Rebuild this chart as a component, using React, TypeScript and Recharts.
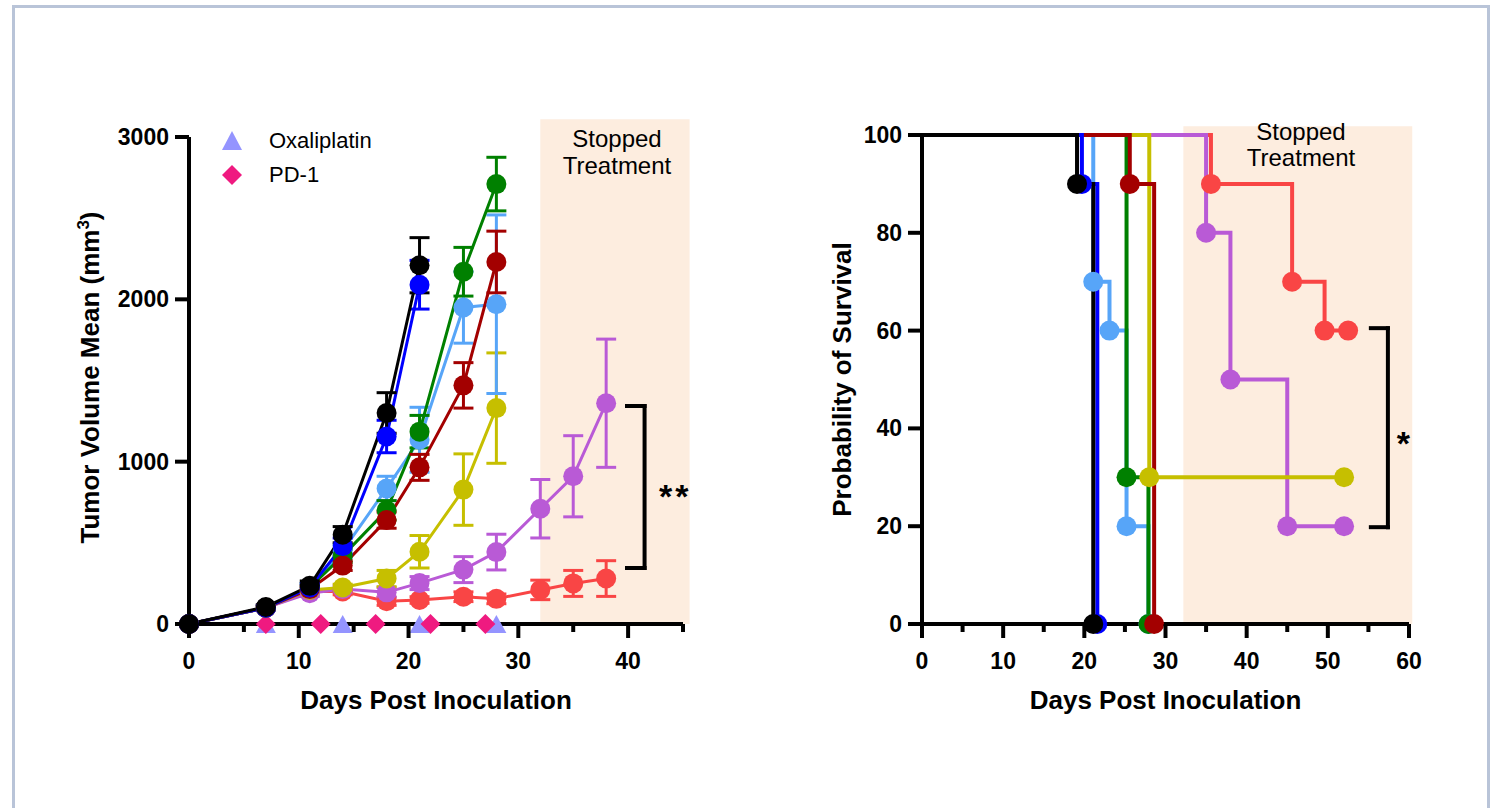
import React from "react"
import {
  ComposedChart,
  Line,
  Scatter,
  XAxis,
  YAxis,
  ErrorBar,
  ReferenceArea,
  ReferenceLine,
  ReferenceDot,
  Label,
} from "recharts"

const FONT = "Arial, 'Liberation Sans', Helvetica, sans-serif"

// ---- tumour growth (mean ± SEM) ----
const daysShort = [0, 7, 11, 14, 18, 21]
const daysMid = [0, 7, 11, 14, 18, 21, 25, 28]
const daysLong = [0, 7, 11, 14, 18, 21, 25, 28, 32, 35, 38]

const blackMean = [0, 105, 235, 550, 1300, 2210]
const blackSem = [0, 15, 30, 50, 125, 170]
const blueMean = [0, 100, 225, 480, 1155, 2090]
const blueSem = [0, 15, 25, 50, 100, 150]
const lightBlueMean = [0, 100, 215, 450, 835, 1135, 1950, 1970]
const lightBlueSem = [0, 10, 25, 40, 75, 200, 220, 550]
const greenMean = [0, 100, 225, 420, 700, 1185, 2170, 2710]
const greenSem = [0, 10, 25, 40, 60, 100, 150, 165]
const darkRedMean = [0, 100, 215, 360, 640, 965, 1470, 2230]
const darkRedSem = [0, 10, 20, 30, 50, 80, 140, 190]
const yellowMean = [0, 100, 210, 225, 280, 445, 828, 1330]
const yellowSem = [0, 10, 20, 20, 50, 100, 220, 340]
const purpleMean = [0, 100, 190, 215, 195, 252, 335, 443, 710, 910, 1360]
const purpleSem = [0, 10, 20, 20, 30, 40, 80, 110, 180, 250, 395]
const redMean = [0, 100, 200, 200, 140, 148, 168, 155, 210, 250, 280]
const redSem = [0, 10, 15, 20, 25, 20, 30, 30, 60, 80, 110]

const oxaliplatinDays = [7, 14, 21, 28]
const pd1Days = [7, 12, 17, 22, 27]

// ---- survival (Kaplan-Meier) ----
const survBlackDays = [0, 19.1, 21.1]
const survBlackPct = [100, 90, 0]
const survBlueDays = [0, 19.7, 21.6]
const survBluePct = [100, 90, 0]
const survLightBlueDays = [0, 21.1, 23.1, 25.2, 27.9]
const survLightBluePct = [100, 70, 60, 20, 0]
const survGreenDays = [0, 25.2, 27.9]
const survGreenPct = [100, 30, 0]
const survDarkRedDays = [0, 25.6, 28.6]
const survDarkRedPct = [100, 90, 0]
const survYellowDays = [0, 28.0, 52.0]
const survYellowPct = [100, 30, 30]
const survPurpleDays = [0, 35.0, 38.0, 45.0, 52.0]
const survPurplePct = [100, 80, 50, 20, 20]
const survRedDays = [0, 35.6, 45.6, 49.6, 52.5]
const survRedPct = [100, 90, 70, 60, 60]

const C = {
  black: "#000000",
  blue: "#0000ff",
  lightBlue: "#57a5f8",
  green: "#008000",
  darkRed: "#a30000",
  yellow: "#c6bf00",
  purple: "#b95ad6",
  red: "#f94545",
  oxali: "#9494ff",
  pd1: "#ef1a80",
  shade: "#fdeddf",
}

const toPoints = (days: number[], mean: number[], sem: number[]) =>
  days.map((d, i) => ({ day: d, mean: mean[i], sem: sem[i] }))
const toSurv = (days: number[], pct: number[]) => days.map((d, i) => ({ day: d, pct: pct[i] }))

// bottom to top
const tumorSeries = [
  { key: "red", color: C.red, data: toPoints(daysLong, redMean, redSem) },
  { key: "purple", color: C.purple, data: toPoints(daysLong, purpleMean, purpleSem) },
  { key: "yellow", color: C.yellow, data: toPoints(daysMid, yellowMean, yellowSem) },
  { key: "lightBlue", color: C.lightBlue, data: toPoints(daysMid, lightBlueMean, lightBlueSem) },
  { key: "green", color: C.green, data: toPoints(daysMid, greenMean, greenSem) },
  { key: "darkRed", color: C.darkRed, data: toPoints(daysMid, darkRedMean, darkRedSem) },
  { key: "blue", color: C.blue, data: toPoints(daysShort, blueMean, blueSem) },
  { key: "black", color: C.black, data: toPoints(daysShort, blackMean, blackSem) },
]

const survSeries = [
  { key: "red", color: C.red, data: toSurv(survRedDays, survRedPct) },
  { key: "purple", color: C.purple, data: toSurv(survPurpleDays, survPurplePct) },
  { key: "lightBlue", color: C.lightBlue, data: toSurv(survLightBlueDays, survLightBluePct) },
  { key: "yellow", color: C.yellow, data: toSurv(survYellowDays, survYellowPct) },
  { key: "green", color: C.green, data: toSurv(survGreenDays, survGreenPct) },
  { key: "darkRed", color: C.darkRed, data: toSurv(survDarkRedDays, survDarkRedPct) },
  { key: "blue", color: C.blue, data: toSurv(survBlueDays, survBluePct) },
  { key: "black", color: C.black, data: toSurv(survBlackDays, survBlackPct) },
]

const oxaliPoints = oxaliplatinDays.map((d) => ({ day: d, mean: 0 }))
const pd1Points = pd1Days.map((d) => ({ day: d, mean: 0 }))

const XTick = (props: any) => {
  const { x, y, payload } = props
  const major = payload.value % 10 === 0
  return (
    <g>
      <line x1={x} x2={x} y1={y} y2={y + (major ? 14 : 8)} stroke="#000" strokeWidth={4} />
      {major && (
        <text x={x} y={y + 37} dy="0.35em" textAnchor="middle" fontSize={23} fontWeight="bold" fontFamily={FONT} fill="#000">
          {payload.value}
        </text>
      )}
    </g>
  )
}

const YTick = (props: any) => {
  const { x, y, payload } = props
  return (
    <g>
      <line x1={x - 14} x2={x} y1={y} y2={y} stroke="#000" strokeWidth={4} />
      <text x={x - 20} y={y} dy="0.35em" textAnchor="end" fontSize={23} fontWeight="bold" fontFamily={FONT} fill="#000">
        {payload.value}
      </text>
    </g>
  )
}

const xTitle = (text: string) => (p: any) => {
  const vb = p.viewBox
  return (
    <text x={vb.x + vb.width / 2} y={700} dy="0.35em" textAnchor="middle" fontSize={26} fontWeight="bold" fontFamily={FONT} fill="#000">
      {text}
    </text>
  )
}

const triangle = (p: any) => (
  <path d={`M${p.cx},${p.cy - 9} L${p.cx + 10},${p.cy + 9} L${p.cx - 10},${p.cy + 9} Z`} fill={C.oxali} />
)
const diamond = (p: any) => (
  <path d={`M${p.cx},${p.cy - 10} L${p.cx + 10},${p.cy} L${p.cx},${p.cy + 10} L${p.cx - 10},${p.cy} Z`} fill={C.pd1} />
)

const axisLine = { stroke: "#000", strokeWidth: 4 }
const bracket = { stroke: "#000", strokeWidth: 4, strokeLinecap: "square" as const }
const starLabel = (value: string) => ({
  value,
  position: "center" as const,
  fontSize: 34,
  fontWeight: "bold",
  fontFamily: FONT,
  fill: "#000",
  letterSpacing: 3,
})

function TumorChart() {
  return (
    <ComposedChart width={740} height={808} margin={{ top: 137, right: 57, bottom: 124, left: 89 }}>
      <ReferenceArea x1={32} x2={45.6} y1={0} y2={3110} fill={C.shade} fillOpacity={1} stroke="none" ifOverflow="visible" />
      <XAxis
        dataKey="day"
        type="number"
        domain={[0, 45]}
        ticks={[0, 5, 10, 15, 20, 25, 30, 35, 40, 45]}
        interval={0}
        height={60}
        axisLine={axisLine}
        tickLine={false}
        tickSize={0}
        tickMargin={0}
        tick={XTick}
      >
        <Label content={xTitle("Days Post Inoculation")} />
      </XAxis>
      <YAxis
        type="number"
        domain={[0, 3000]}
        ticks={[0, 1000, 2000, 3000]}
        interval={0}
        width={100}
        axisLine={axisLine}
        tickLine={false}
        tickSize={0}
        tickMargin={0}
        tick={YTick}
      >
        <Label
          content={(p: any) => {
            const cy = p.viewBox.y + p.viewBox.height / 2 - 3
            return (
              <text
                x={90}
                y={cy}
                dy="0.35em"
                transform={`rotate(-90 90 ${cy})`}
                textAnchor="middle"
                fontSize={26}
                fontWeight="bold"
                fontFamily={FONT}
                fill="#000"
              >
                Tumor Volume Mean (mm
                <tspan dy={-10} fontSize={17}>3</tspan>
                <tspan dy={10}>)</tspan>
              </text>
            )
          }}
        />
      </YAxis>
      {tumorSeries.map((s) => (
        <Line
          key={s.key}
          data={s.data}
          dataKey="mean"
          stroke={s.color}
          strokeWidth={3}
          dot={{ r: 10, fill: s.color, stroke: "none", strokeWidth: 0 }}
          activeDot={false}
          isAnimationActive={false}
        >
          <ErrorBar dataKey="sem" direction="y" width={10} stroke={s.color} strokeWidth={3} />
        </Line>
      ))}
      <Scatter data={oxaliPoints} dataKey="mean" shape={triangle} isAnimationActive={false} />
      <Scatter data={pd1Points} dataKey="mean" shape={diamond} isAnimationActive={false} />
      <ReferenceLine segment={[{ x: 39.9, y: 1343 }, { x: 41.5, y: 1343 }]} {...bracket} ifOverflow="visible" />
      <ReferenceLine segment={[{ x: 41.5, y: 1343 }, { x: 41.5, y: 345 }]} {...bracket} ifOverflow="visible" />
      <ReferenceLine segment={[{ x: 39.9, y: 345 }, { x: 41.5, y: 345 }]} {...bracket} ifOverflow="visible" />
      <ReferenceDot x={44.3} y={790} r={0} fill="none" stroke="none" ifOverflow="visible" label={starLabel("**")} />
    </ComposedChart>
  )
}

function SurvivalChart() {
  return (
    <ComposedChart width={754} height={808} margin={{ top: 135, right: 85, bottom: 124, left: 82 }}>
      <ReferenceArea x1={32.2} x2={60.4} y1={0} y2={101.8} fill={C.shade} fillOpacity={1} stroke="none" ifOverflow="visible" />
      <XAxis
        dataKey="day"
        type="number"
        domain={[0, 60]}
        ticks={[0, 5, 10, 15, 20, 25, 30, 35, 40, 45, 50, 55, 60]}
        interval={0}
        height={60}
        axisLine={axisLine}
        tickLine={false}
        tickSize={0}
        tickMargin={0}
        tick={XTick}
      >
        <Label content={xTitle("Days Post Inoculation")} />
      </XAxis>
      <YAxis
        type="number"
        domain={[0, 100]}
        ticks={[0, 20, 40, 60, 80, 100]}
        interval={0}
        width={100}
        axisLine={axisLine}
        tickLine={false}
        tickSize={0}
        tickMargin={0}
        tick={YTick}
      >
        <Label
          content={(p: any) => {
            const cy = p.viewBox.y + p.viewBox.height / 2
            return (
              <text
                x={102}
                y={cy}
                dy="0.35em"
                transform={`rotate(-90 102 ${cy})`}
                textAnchor="middle"
                fontSize={26}
                fontWeight="bold"
                fontFamily={FONT}
                fill="#000"
              >
                Probability of Survival
              </text>
            )
          }}
        />
      </YAxis>
      {survSeries.map((s) => (
        <Line
          key={s.key}
          type="stepAfter"
          data={s.data}
          dataKey="pct"
          stroke={s.color}
          strokeWidth={4}
          dot={(p: any) =>
            p.index === 0 ? (
              <g key={`${s.key}-d${p.index}`} />
            ) : (
              <circle key={`${s.key}-d${p.index}`} cx={p.cx} cy={p.cy} r={10} fill={s.color} />
            )
          }
          activeDot={false}
          isAnimationActive={false}
        />
      ))}
      <ReferenceLine segment={[{ x: 55.3, y: 60.5 }, { x: 57.4, y: 60.5 }]} {...bracket} ifOverflow="visible" />
      <ReferenceLine segment={[{ x: 57.4, y: 60.5 }, { x: 57.4, y: 19.8 }]} {...bracket} ifOverflow="visible" />
      <ReferenceLine segment={[{ x: 55.3, y: 19.8 }, { x: 57.4, y: 19.8 }]} {...bracket} ifOverflow="visible" />
      <ReferenceDot x={59.5} y={37} r={0} fill="none" stroke="none" ifOverflow="visible" label={starLabel("*")} />
    </ComposedChart>
  )
}

const textStyle: React.CSSProperties = { position: "absolute", fontFamily: FONT, color: "#000", whiteSpace: "nowrap" }

export default function App() {
  return (
    <div style={{ position: "absolute", left: 0, top: 0, width: 1494, height: 808, overflow: "hidden", background: "#fff" }}>
      <div
        style={{
          position: "absolute",
          left: 12,
          top: 5,
          width: 1478,
          height: 830,
          border: "3px solid #b9c4d8",
          boxSizing: "border-box",
        }}
      />
      <div style={{ position: "absolute", left: 0, top: 0 }}>
        <TumorChart />
      </div>
      <div style={{ position: "absolute", left: 740, top: 0 }}>
        <SurvivalChart />
      </div>

      {/* treatment legend */}
      <svg style={{ position: "absolute", left: 220, top: 129 }} width={24} height={60}>
        <path d="M12,2 L22,21 L2,21 Z" fill={C.oxali} />
        <path d="M12,36 L22,46 L12,56 L2,46 Z" fill={C.pd1} />
      </svg>
      <div style={{ ...textStyle, left: 269, top: 128, fontSize: 22, lineHeight: "26px" }}>Oxaliplatin</div>
      <div style={{ ...textStyle, left: 269, top: 162, fontSize: 22, lineHeight: "26px" }}>PD-1</div>

      <div style={{ ...textStyle, left: 517, top: 125, width: 200, textAlign: "center", fontSize: 24, lineHeight: "27px" }}>
        Stopped
        <br />
        Treatment
      </div>
      <div style={{ ...textStyle, left: 1201, top: 119, width: 200, textAlign: "center", fontSize: 24, lineHeight: "26px" }}>
        Stopped
        <br />
        Treatment
      </div>
    </div>
  )
}
